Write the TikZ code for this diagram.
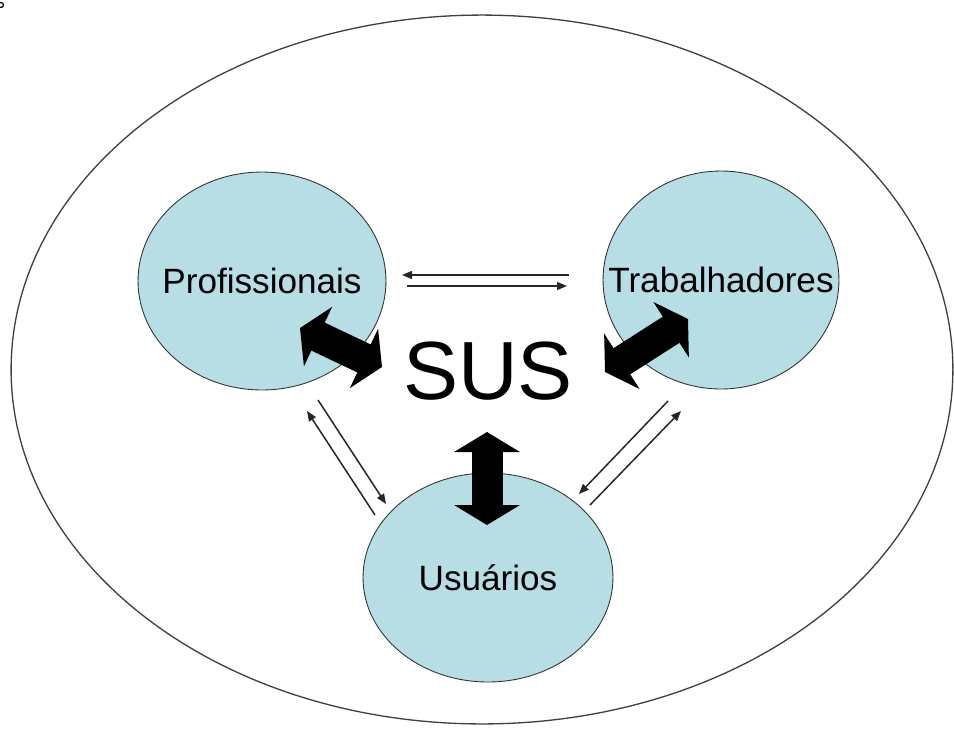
\documentclass[tikz,border=0pt]{standalone}
\usepackage{fontspec}
\setmainfont{Liberation Sans}
\usetikzlibrary{arrows.meta, positioning, shapes.geometric}

\definecolor{azulgrupo}{RGB}{183,221,229}
\newcommand{\rotulo}[1]{\makebox[0pt]{#1}}

\tikzset{
  grupo/.style={ellipse, draw=black!80, line width=0.5pt, fill=azulgrupo, inner sep=0pt,
    font=\fontsize{20}{24}\selectfont},
  fluxo/.style={line width=0.85pt, black!85, -{Triangle[length=0.2cm, width=0.16cm]}},
  bloco/.style={line width=0.62cm,
    {Triangle[length=0.4cm, width=1.3cm]}-{Triangle[length=0.4cm, width=1.3cm]}}
}

\begin{document}
\begin{tikzpicture}[x=0.02cm, y=-0.02cm]
  \useasboundingbox (0,0) rectangle (954,728);

  % marca no canto
  \draw[line width=0.7pt] (1,5) circle[radius=0.05cm];

  % conjunto externo
  \draw[line width=0.75pt, black!75] (482,369.5) ellipse[x radius=9.42cm, y radius=7.09cm];

  % os tres grupos
  \node[grupo, minimum width=4.96cm, minimum height=4.36cm] (prof) at (262,281) {\rotulo{Profissionais}};
  \node[grupo, minimum width=4.72cm, minimum height=4.36cm] (trab) at (721,280) {\rotulo{Trabalhadores}};
  \node[grupo, minimum width=5.00cm, minimum height=4.18cm] (usu) at (488,577.5) {\rotulo{Usuários}};
  \node[inner sep=0pt, font=\fontsize{47}{56}\selectfont] (sus) at (488,371) {SUS};

  % pontas das setas
  \foreach \n/\x/\y in {pa/569/275, pb/402/275, pc/407/286, pd/567/286,
                        pe/318/400, pf/386/504, pg/375/515, ph/307/411,
                        pi/668/401, pj/579/494, pk/590/505, pl/681/411,
                        ea/300/328, eb/382/367, da/605/372, db/688/319,
                        va/487/432, vb/487/525}
    \coordinate (\n) at (\x,\y);

  % setas finas
  \draw[fluxo] (pa) -- (pb);
  \draw[fluxo] (pc) -- (pd);
  \draw[fluxo] (pe) -- (pf);
  \draw[fluxo] (pg) -- (ph);
  \draw[fluxo] (pi) -- (pj);
  \draw[fluxo] (pk) -- (pl);

  % setas grossas
  \draw[bloco] (ea) -- (eb);
  \draw[bloco] (da) -- (db);
  \draw[bloco] (va) -- (vb);
\end{tikzpicture}
\end{document}
